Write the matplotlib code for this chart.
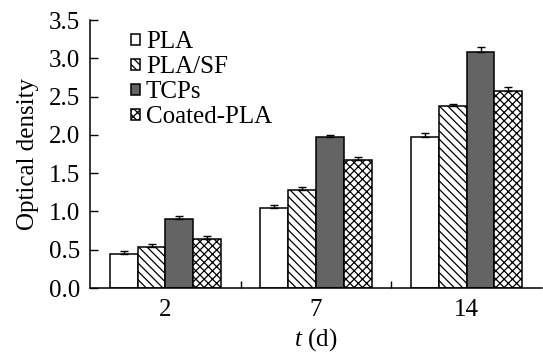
import matplotlib.pyplot as plt
import numpy as np

plt.rcParams["font.family"] = ["Liberation Serif", "DejaVu Serif"]
plt.rcParams["mathtext.fontset"] = "custom"
plt.rcParams["mathtext.it"] = "Liberation Serif:italic"
plt.rcParams["mathtext.rm"] = "Liberation Serif"
plt.rcParams["hatch.linewidth"] = 0.9

days = ["2", "7", "14"]
series = ["PLA", "PLA/SF", "TCPs", "Coated-PLA"]
values = {
    "PLA": [0.45, 1.05, 1.97],
    "PLA/SF": [0.53, 1.28, 2.38],
    "TCPs": [0.90, 1.97, 3.08],
    "Coated-PLA": [0.64, 1.67, 2.57],
}
errors = {
    "PLA": [0.04, 0.04, 0.06],
    "PLA/SF": [0.05, 0.04, 0.03],
    "TCPs": [0.04, 0.03, 0.065],
    "Coated-PLA": [0.04, 0.04, 0.05],
}
styles = {
    "PLA": dict(color="white", hatch=""),
    "PLA/SF": dict(color="white", hatch="\\\\\\\\"),
    "TCPs": dict(color="#646464", hatch=""),
    "Coated-PLA": dict(color="white", hatch="xxxx"),
}

fig = plt.figure(figsize=(5.43, 3.53), dpi=100)
ax = fig.add_axes([0.166, 0.184, 0.832, 0.759])

x = np.arange(len(days))
width = 0.185
for i, name in enumerate(series):
    pos = x + (i - 1.5) * width
    ax.bar(pos, values[name], width, color=styles[name]["color"],
           hatch=styles[name]["hatch"], edgecolor="black", linewidth=1.1,
           label=name, zorder=2)
    ax.errorbar(pos, values[name], yerr=[np.zeros(3), errors[name]], fmt="none",
                ecolor="black", elinewidth=1.0, capsize=3, capthick=1.0, zorder=3)

ax.set_xlim(-0.5, 2.5)
ax.set_ylim(0, 3.5)
ax.set_yticks(np.arange(0, 3.51, 0.5))
ax.set_yticklabels([f"{v:.1f}" for v in np.arange(0, 3.51, 0.5)])
ax.set_xticks(x)
ax.set_xticklabels(days)
ax.set_xticks([0.5, 1.5], minor=True)
ax.tick_params(axis="x", which="major", length=0, pad=8, labelsize=18)
ax.tick_params(axis="x", which="minor", direction="in", length=5, width=1)
ax.tick_params(axis="y", direction="in", length=6, width=1, labelsize=18, pad=7)
for s in ["top", "right"]:
    ax.spines[s].set_visible(False)
for s in ["left", "bottom"]:
    ax.spines[s].set_linewidth(1.1)

ax.set_ylabel("Optical density", fontsize=18, labelpad=7.5)
ax.set_xlabel(r"$t$ (d)", fontsize=18, labelpad=3.5)

leg = ax.legend(loc="upper left", bbox_to_anchor=(0.068, 0.995), frameon=False,
                fontsize=18, handlelength=0.35, handleheight=0.35,
                handletextpad=0.25, labelspacing=0.12, borderaxespad=0)

fig.savefig("out.png", dpi=100)
